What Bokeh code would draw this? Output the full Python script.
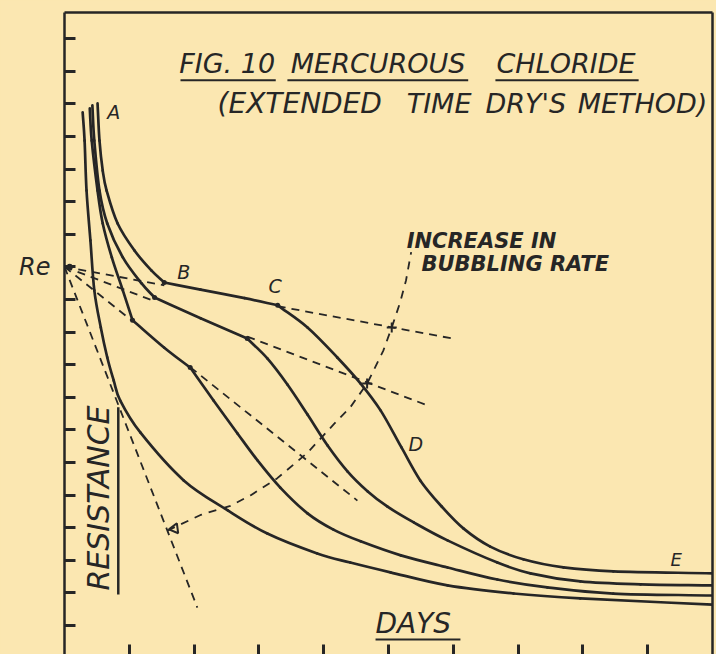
from bokeh.plotting import figure
from bokeh.models import Range1d, LinearAxis, FixedTicker, Label
from bokeh.embed import file_html
from bokeh.resources import INLINE

PAPER = "#FBE7B1"
INK = "#262626"
FONT = "DejaVu Sans"

# ---------------- data (days, resistance in tick units) ----------------
re_level = 12.0          # R_e on the resistance axis
y_ticks = list(range(1, 20))
x_ticks = list(range(1, 10))
y_tick_labels = {12: "Re"}

# curve 1 (innermost, steepest)
days_1 = [0.28, 0.31, 0.34, 0.40, 0.46, 0.56, 0.66, 0.76, 0.86, 1.17, 1.84, 2.52,
          3.13, 3.90, 4.41, 5.03, 5.91, 6.93, 7.96, 10.0]
res_1 = [16.74, 15.87, 14.34, 12.81, 11.28, 10.14, 9.22, 8.51, 7.90, 6.92, 5.45, 4.53,
         3.82, 3.21, 2.93, 2.63, 2.23, 1.98, 1.83, 1.64]

# curve 2
days_2 = [0.39, 0.42, 0.51, 0.59, 0.73, 0.90, 1.05, 1.54, 1.94, 2.30, 2.67, 2.98,
          3.33, 3.75, 4.15, 4.57, 5.19, 5.91, 6.68, 7.45, 8.47, 10.0]
res_2 = [16.86, 15.87, 14.34, 13.33, 12.29, 11.28, 10.36, 9.52, 8.91, 7.90, 6.89, 6.06,
         5.23, 4.44, 3.94, 3.58, 3.15, 2.78, 2.41, 2.17, 1.98, 1.92]

# curve 3
days_3 = [0.43, 0.46, 0.54, 0.66, 0.90, 1.19, 1.39, 2.10, 2.82, 3.13, 3.44, 3.75,
          4.06, 4.37, 4.68, 4.98, 5.39, 5.91, 6.68, 7.19, 7.96, 8.89, 10.0]
res_3 = [16.95, 15.87, 14.34, 13.33, 12.29, 11.49, 11.06, 10.42, 9.80, 9.19, 8.39, 7.47,
         6.52, 5.72, 5.11, 4.65, 4.16, 3.61, 2.93, 2.60, 2.35, 2.26, 2.23]

# curve 4 (A - B - C - D - E)
days_4 = [0.51, 0.54, 0.59, 0.65, 0.82, 1.08, 1.34, 1.54, 2.10, 2.78, 3.29, 3.75,
          4.21, 4.57, 4.88, 5.20, 5.49, 5.82, 6.16, 6.57, 7.08, 7.70, 8.47, 10.0]
res_4 = [17.01, 15.87, 14.95, 14.34, 13.33, 12.50, 11.89, 11.52, 11.30, 11.04, 10.82, 10.14,
         9.22, 8.42, 7.59, 6.46, 5.45, 4.65, 3.97, 3.42, 3.03, 2.78, 2.66, 2.60]

# indices of the sharp bends (B, C and the matching bends of curves 2, 3)
corners_1 = []
corners_2 = [6, 8]
corners_3 = [6, 8]
corners_4 = [7, 10]

# dashed tangents from R_e: end points and the stretch where the curve runs on the line
tan_end_days = [5.99, 5.60, 4.52, 2.05]
tan_end_res = [9.80, 7.75, 4.83, 1.55]
tan_join_days = [1.54, 1.39, 1.05, None]
tan_leave_days = [3.29, 2.82, 1.94, None]

# kink points on the curves (B, C and the others)
kink_days = [1.54, 3.29, 1.39, 2.82, 1.05, 1.94]
kink_res = [11.52, 10.82, 11.06, 9.80, 10.36, 8.91]

# "increase in bubbling rate" dashed curve
bub_days = [1.59, 2.10, 2.56, 2.87, 3.28, 3.74, 4.15, 4.41, 4.67, 4.92, 5.05, 5.18, 5.27, 5.35]
bub_res = [3.91, 4.39, 4.67, 4.99, 5.51, 6.28, 7.16, 7.69, 8.42, 9.43, 10.14, 10.91, 11.58, 12.45]
cross_days = [5.05, 4.67]
cross_res = [10.14, 8.42]
arrow_days = [1.70]
arrow_res = [3.97]

# ---------------- figure ----------------
p = figure(width=716, height=654, output_backend="svg", toolbar_location=None,
           x_range=Range1d(0, 10), y_range=Range1d(0.11, 19.8),
           x_axis_type=None, y_axis_type=None,
           min_border_left=64, min_border_right=4, min_border_top=12, min_border_bottom=0,
           background_fill_color=PAPER, border_fill_color=PAPER,
           outline_line_color=None)


def frame_axis(ticks, tick_len, show_line=True, overrides=None):
    ax = LinearAxis(ticker=FixedTicker(ticks=ticks, minor_ticks=[]),
                    major_tick_in=tick_len, major_tick_out=0,
                    minor_tick_in=0, minor_tick_out=0,
                    major_tick_line_color=INK, major_tick_line_width=3,
                    major_label_text_font_size="0px", major_label_text_color=None,
                    major_label_standoff=0,
                    axis_line_color=INK if show_line else None, axis_line_width=2.5)
    if overrides:
        ax.major_label_overrides = {t: overrides.get(t, "") for t in ticks}
        ax.major_label_text_font_size = "24px"
        ax.major_label_text_font = FONT
        ax.major_label_text_font_style = "italic"
        ax.major_label_text_color = INK
        ax.major_label_standoff = 14
    return ax


p.add_layout(frame_axis(y_ticks, 11, overrides=y_tick_labels), "left")
p.add_layout(frame_axis(x_ticks, 10, show_line=False), "below")
p.add_layout(frame_axis([], 0), "above")
p.add_layout(frame_axis([], 0), "right")

# dashed tangents
tan_xs, tan_ys = [], []
for xe, ye, xj, xl in zip(tan_end_days, tan_end_res, tan_join_days, tan_leave_days):
    def line_y(x, xe=xe, ye=ye):
        return re_level + (ye - re_level) * x / xe
    if xj is None:
        tan_xs.append([0, xe]); tan_ys.append([re_level, ye])
    else:
        tan_xs.append([0, xj]); tan_ys.append([re_level, line_y(xj)])
        tan_xs.append([xl, xe]); tan_ys.append([line_y(xl), ye])
p.multi_line(tan_xs, tan_ys, line_color=INK, line_width=1.8, line_dash="8 6")

# bubbling-rate curve
p.line(bub_days, bub_res, line_color=INK, line_width=1.8, line_dash="8 7")
p.scatter(cross_days, cross_res, marker="cross", size=10, line_color=INK, line_width=2)
p.scatter(arrow_days, arrow_res, marker="triangle", angle=1.7, size=10,
          line_color=INK, fill_color=None, line_width=2)


def smooth_curve(xs, ys, corners):
    """Draw a curve through the read points as cubic Bezier pieces."""
    n = len(xs)
    x0, y0, x1, y1, cx0, cy0, cx1, cy1 = [], [], [], [], [], [], [], []

    def tangent(i, side):
        if i == 0 or (i in corners and side == "out"):
            return xs[i + 1] - xs[i], ys[i + 1] - ys[i]
        if i == n - 1 or (i in corners and side == "in"):
            return xs[i] - xs[i - 1], ys[i] - ys[i - 1]
        return (xs[i + 1] - xs[i - 1]) / 2, (ys[i + 1] - ys[i - 1]) / 2

    for i in range(n - 1):
        tox, toy = tangent(i, "out")
        tix, tiy = tangent(i + 1, "in")
        x0.append(xs[i]); y0.append(ys[i])
        x1.append(xs[i + 1]); y1.append(ys[i + 1])
        cx0.append(xs[i] + tox / 3); cy0.append(ys[i] + toy / 3)
        cx1.append(xs[i + 1] - tix / 3); cy1.append(ys[i + 1] - tiy / 3)
    p.bezier(x0=x0, y0=y0, x1=x1, y1=y1, cx0=cx0, cy0=cy0, cx1=cx1, cy1=cy1,
             line_color=INK, line_width=2.7, line_cap="round")


for xs, ys, cs in [(days_1, res_1, corners_1), (days_2, res_2, corners_2),
                   (days_3, res_3, corners_3), (days_4, res_4, corners_4)]:
    smooth_curve(xs, ys, cs)
p.scatter(kink_days, kink_res, marker="circle", size=5, fill_color=INK, line_color=None)
p.scatter([0.08], [re_level], marker="circle", size=6, fill_color=INK, line_color=None)


def lab(x, y, text, size, style="italic", angle=0.0, align="left"):
    p.add_layout(Label(x=x, y=y, text=text, text_font=FONT, text_font_style=style,
                       text_font_size=size, text_color=INK, angle=angle,
                       text_baseline="middle", text_align=align))


# title (words centred on their hand-lettered places)
for x, word in [(2.51, "FIG. 10"), (4.84, "MERCUROUS"), (7.74, "CHLORIDE")]:
    lab(x, 18.25, word, "27px", align="center")
for x, word, size in [(3.63, "(EXTENDED", "28px"), (5.78, "TIME", "27px"),
                      (7.12, "DRY'S", "27px"), (8.92, "METHOD)", "27px")]:
    lab(x, 17.0, word, size, align="center")
ul_x0 = [1.79, 3.44, 6.65, 4.80]
ul_x1 = [3.26, 6.23, 8.86, 6.11]
ul_y = [17.72, 17.72, 17.72, 0.57]
p.segment(ul_x0, ul_y, ul_x1, ul_y, line_color=INK, line_width=2)

# annotations
lab(5.28, 12.79, "INCREASE IN", "21px", style="bold italic")
lab(5.51, 12.08, "BUBBLING RATE", "21px", style="bold italic")
lab(0.66, 16.75, "A", "19px")
lab(1.74, 11.83, "B", "19px")
lab(3.15, 11.41, "C", "19px")
lab(5.31, 6.57, "D", "19px")
lab(9.35, 3.01, "E", "18px")
lab(0.52, 2.07, "RESISTANCE", "30px", angle=1.5708)
p.segment([0.83], [1.95], [0.83], [7.69], line_color=INK, line_width=2.5)
lab(4.80, 1.06, "DAYS", "28px")

html = file_html(p, INLINE, title="Fig. 10 Mercurous Chloride")
html = html.replace("</head>", "<style>html,body{background:#FBE7B1;}</style></head>", 1)
open("out.html", "w").write(html)
